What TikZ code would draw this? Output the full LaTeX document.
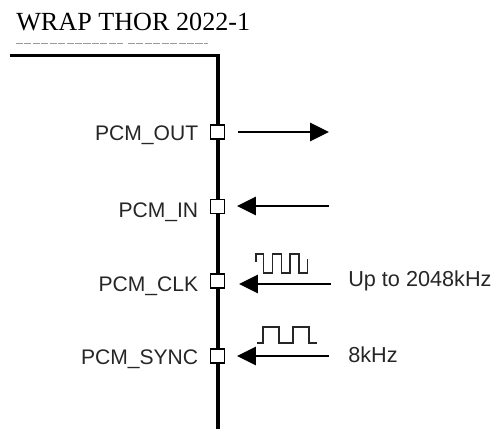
\documentclass[tikz,border=0pt]{standalone}
\usepackage{fontspec}
\setmainfont{Liberation Serif}
\setsansfont{Liberation Sans}
\usetikzlibrary{arrows.meta}
\tikzset{
    pinbox/.style={draw, line width=1pt, fill=white, minimum size=.34cm, inner sep=0pt},
    pinlabel/.style={anchor=base east, font=\sffamily\fontsize{15}{17}\selectfont, text=black!85, inner sep=0pt},
    ratelabel/.style={anchor=base west, font=\sffamily\fontsize{15.4}{17}\selectfont, text=black!85, inner sep=0pt},
    signal/.style={line width=1pt, -{Triangle[length=.47cm, width=.46cm]}},
    wave/.style={line width=.9pt, black!85},
    chipedge/.style={line width=2.8pt, line cap=butt},
    cropped/.style={black!40, line width=.5pt, dash pattern=on 5pt off 1pt}
}
\begin{document}
\begin{tikzpicture}[x=.025cm, y=-.025cm]
    \useasboundingbox (0, 0) rectangle (496, 429);
    \node[anchor=base west, inner sep=0pt, font=\fontsize{18.6}{21}\selectfont] (title) at (16, 30) {WRAP THOR 2022-1};
    \draw[cropped] (16, 43.5) -- ++(107, 0);
    \draw[cropped] (128, 43.5) -- ++(80, 0);
    \draw[chipedge] (10, 55.5) -- (218, 55.5) -- (218, 429);
    \node[pinbox] (pinout) at (217.5, 132) {};
    \node[pinbox] (pinin) at (217.5, 206.5) {};
    \node[pinbox] (pinclk) at (217.5, 281) {};
    \node[pinbox] (pinsync) at (217.5, 356) {};
    \node[pinlabel] (labelout) at (198.5, 140.5) {PCM\_OUT};
    \node[pinlabel] (labelin) at (198.5, 217.5) {PCM\_IN};
    \node[pinlabel] (labelclk) at (198.5, 291.5) {PCM\_CLK};
    \node[pinlabel] (labelsync) at (198.5, 364.5) {PCM\_SYNC};
    \coordinate (outend) at (329, 132);
    \coordinate (inend) at (329, 206);
    \coordinate (clkend) at (331, 284);
    \coordinate (syncend) at (329, 356);
    \draw[signal, shorten <=.325cm] (pinout.east) -- (outend);
    \draw[signal, shorten >=.3cm] (inend) -- (pinin.east |- inend);
    \draw[signal, shorten >=.35cm] (clkend) -- (pinclk.east |- clkend);
    \draw[signal, shorten >=.3cm] (syncend) -- (pinsync.east |- syncend);
    \node[ratelabel] (rateclk) at (348, 286.5) {Up to 2048kHz};
    \node[ratelabel] (ratesync) at (348, 362) {8kHz};
    \draw[wave] (256, 262) -- (256, 254) -- (263.5, 254) -- (263.5, 273) -- (272.5, 273) -- (272.5, 254) -- (281.5, 254) -- (281.5, 273) -- (290, 273) -- (290, 254) -- (299, 254) -- (299, 273) -- (307.5, 273) -- (307.5, 259);
    \draw[wave] (257, 343) -- (263, 343) -- (263, 327) -- (279, 327) -- (279, 343) -- (293, 343) -- (293, 327) -- (309, 327) -- (309, 343) -- (317, 343);
\end{tikzpicture}
\end{document}
